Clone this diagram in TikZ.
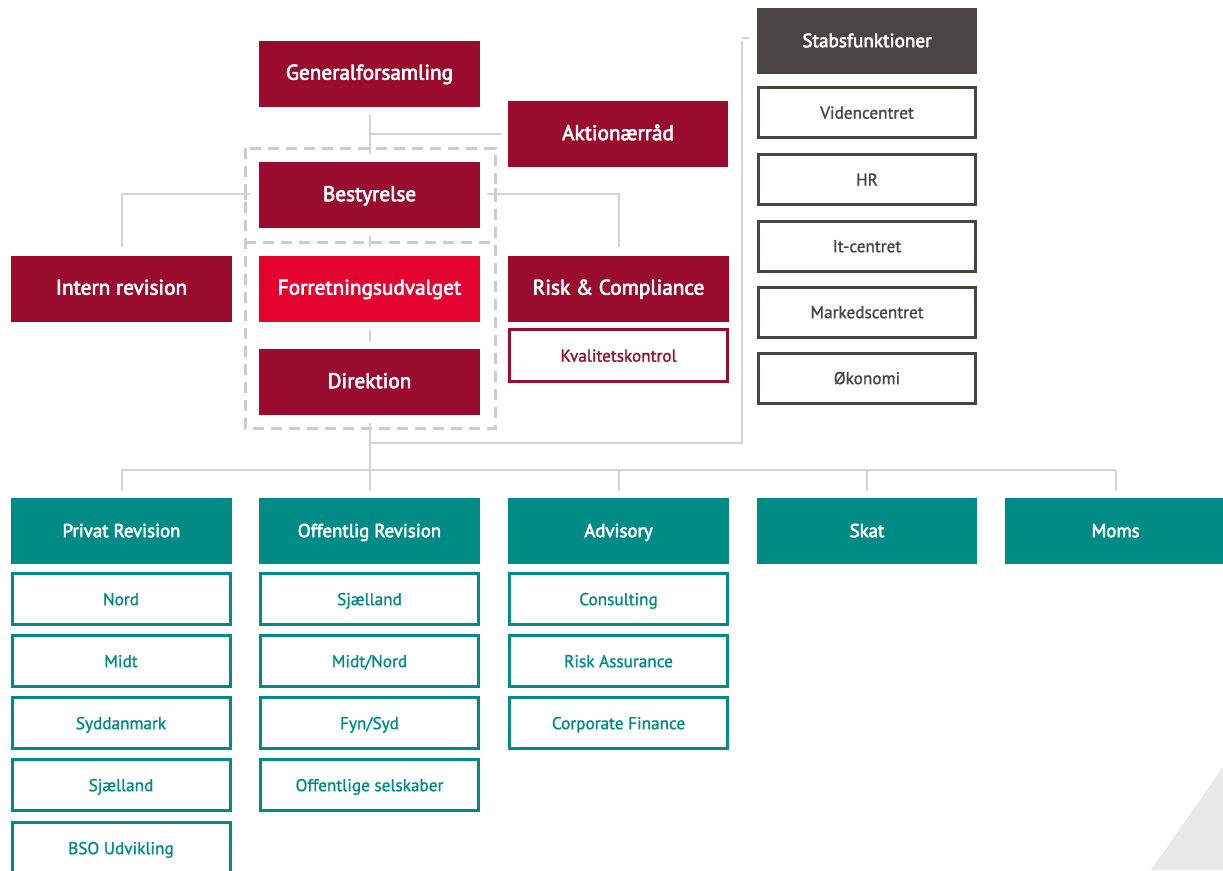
\documentclass[tikz,border=0pt]{standalone}
\usepackage{fontspec}
\setmainfont{PT Sans}
\newfontfamily\hdrfont[FakeBold=3]{PT Sans}
\newfontfamily\subfont[FakeBold=1.2]{PT Sans}
\usetikzlibrary{calc}
\newdimen\pxu \pxu=0.02cm
\definecolor{dred}{HTML}{990C2D}
\definecolor{bred}{HTML}{E4032E}
\definecolor{kteal}{HTML}{008B87}
\definecolor{dgray}{HTML}{4A4542}
\definecolor{lgray}{HTML}{D3D3D3}
\definecolor{dgline}{HTML}{CCCCCC}
\definecolor{trigray}{HTML}{E8E8E8}
\tikzset{
  box/.style={inner sep=0pt, align=center, minimum width=221\pxu, minimum height=66\pxu, text height=0.72em, text depth=0.02em},
  redhdr/.style={box, fill=dred, text=white, font=\hdrfont\fontsize{12.1}{14}\selectfont},
  brighthdr/.style={redhdr, fill=bred},
  tealhdr/.style={box, fill=kteal, text=white, font=\hdrfont\fontsize{10.7}{12}\selectfont},
  grayhdr/.style={box, fill=dgray, text=white, font=\hdrfont\fontsize{10.9}{12}\selectfont},
  subbox/.style={inner sep=0pt, align=center, minimum width=218\pxu, minimum height=51\pxu, text height=0.72em, text depth=0.02em, line width=3\pxu, fill=white, font=\subfont\fontsize{9.8}{12}\selectfont},
  tealsub/.style={subbox, draw=kteal, text=kteal},
  graysub/.style={subbox, draw=dgray, text=dgray},
  redsub/.style={subbox, draw=dred, text=dred, minimum height=52\pxu},
  conn/.style={draw=lgray, line width=2\pxu},
  dashbox/.style={draw=dgline, line width=0.06cm, dash pattern=on 0.22cm off 0.14cm},
  tick/.style={draw=dgline, line width=0.06cm},
}
\begin{document}
\begin{tikzpicture}[x=\pxu, y=-\pxu]
\useasboundingbox (0,0) rectangle (1223,870);
\clip (0,0) rectangle (1223,870);
\fill[trigray] (1151,870) -- (1223,767) -- (1223,870) -- cycle;

% dashed group box
\draw[dashbox] (245,148) rectangle (495,428);
\draw[dashbox] (245,242) -- (495,242);
\draw[tick] (245,188) -- (245,200);
\draw[tick] (495,188) -- (495,200);

% top red nodes
\node[redhdr] (gen) at (369.5,73.5) {Generalforsamling};
\node[redhdr, minimum width=220\pxu] (akt) at (618,134) {Aktionærråd};
\node[redhdr] (best) at (369.5,195) {Bestyrelse};
\node[redhdr] (intern) at (121.5,288.5) {Intern revision};
\node[brighthdr] (forr) at (369.5,288.5) {Forretningsudvalget};
\node[redhdr] (risk) at (618.5,288.5) {Risk \& Compliance};
\node[redsub] (kval) at (618.5,355.5) {Kvalitetskontrol};
\node[redhdr] (dir) at (369.5,382) {Direktion};

% staff functions
\node[grayhdr, minimum width=220\pxu] (stab) at (867,41) {Stabsfunktioner};
\node[graysub, minimum width=217\pxu, minimum height=50\pxu] (vid) at (867,112.5) {Videncentret};
\node[graysub, minimum width=217\pxu, minimum height=50\pxu] (hr) at (867,179.5) {HR};
\node[graysub, minimum width=217\pxu, minimum height=50\pxu] (it) at (867,246) {It-centret};
\node[graysub, minimum width=217\pxu, minimum height=50\pxu] (mark) at (867,312) {Markedscentret};
\node[graysub, minimum width=217\pxu, minimum height=50\pxu] (oko) at (867,378) {Økonomi};

% business areas
\node[tealhdr] (priv) at (121.5,531) {Privat Revision};
\node[tealhdr] (off) at (369.5,531) {Offentlig Revision};
\node[tealhdr] (adv) at (618.5,531) {Advisory};
\node[tealhdr, minimum width=220\pxu] (skat) at (867,531) {Skat};
\node[tealhdr] (moms) at (1115.5,531) {Moms};

\node[tealsub] (p1) at (121,599) {Nord};
\node[tealsub] (p2) at (121,661) {Midt};
\node[tealsub] (p3) at (121,723) {Syddanmark};
\node[tealsub] (p4) at (121,785) {Sjælland};
\node[tealsub] (p5) at (121,848) {BSO Udvikling};

\node[tealsub] (o1) at (369.5,599) {Sjælland};
\node[tealsub] (o2) at (369.5,661) {Midt/Nord};
\node[tealsub] (o3) at (369.5,723) {Fyn/Syd};
\node[tealsub] (o4) at (369.5,785) {Offentlige selskaber};

\node[tealsub] (a1) at (618.5,599) {Consulting};
\node[tealsub] (a2) at (618.5,661) {Risk Assurance};
\node[tealsub] (a3) at (618.5,723) {Corporate Finance};

% connectors
\coordinate (busy) at (0,470);
\coordinate (brky) at (0,443);
\coordinate (brkx) at (742,0);
\draw[conn] ($(gen.south)+(0,8)$) -- ($(best.north)+(0,-8)$);
\draw[conn] (gen.south |- akt.west) -- ($(akt.west)+(-7,0)$);
\draw[conn] ($(best.west)+(-8,-1)$) -| ($(intern.north)+(0,-8)$);
\draw[conn] ($(best.east)+(7,-1)$) -| ($(risk.north)+(0,-8)$);
\draw[conn] ($(best.south)+(0,8)$) -- ($(forr.north)+(0,-8)$);
\draw[conn] ($(forr.south)+(0,8)$) -- ($(dir.north)+(0,-7)$);
\draw[conn] ($(dir.south)+(0,8)$) -- (dir.south |- busy);
\draw[conn] (dir.south |- brky) -- (brkx |- brky) -- (brkx |- stab.west) ++(0,-3) -- ($(stab.west)+(-8,-3)$);
\draw[conn] (priv.north |- busy) -- (moms.north |- busy);
\foreach \n in {priv,off,adv,skat,moms}{
  \draw[conn] (\n.north |- busy) -- ($(\n.north)+(0,-7)$);
}
\end{tikzpicture}
\end{document}
